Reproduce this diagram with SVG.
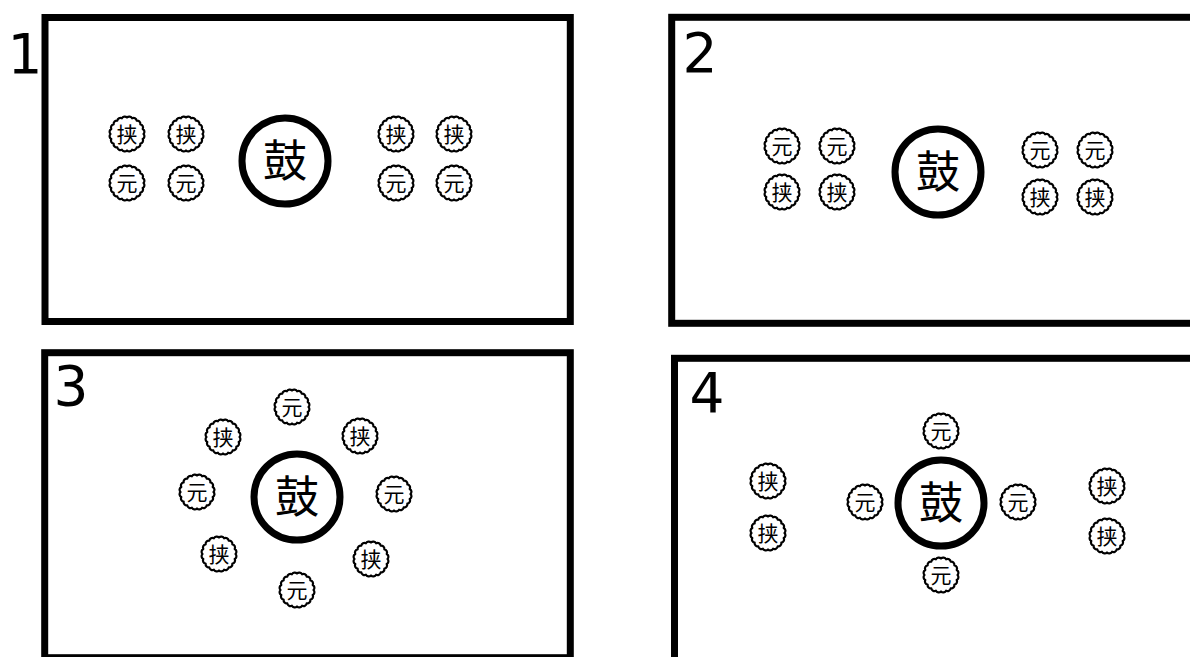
<svg xmlns="http://www.w3.org/2000/svg" xmlns:xlink="http://www.w3.org/1999/xlink" width="1190" height="657" viewBox="0 0 1190 657">
<style>
.frame{fill:none;stroke:#000;stroke-width:7}
.num{font-family:"DejaVu Sans",sans-serif;font-size:55px;fill:#000;text-anchor:middle}
.big{fill:#fff;stroke:#000;stroke-width:7}
.bigt{font-family:"Noto Sans CJK JP","Noto Sans CJK SC",sans-serif;font-size:44px;fill:#000;text-anchor:middle}
.sm{fill:#fff;stroke:#000;stroke-width:2.2;stroke-linejoin:round}
.smt{font-family:"Noto Sans CJK JP","Noto Sans CJK SC",sans-serif;font-size:21px;fill:#000;text-anchor:middle}
</style>
<defs>
<path id="sc" class="sm" d="M16.5,0 A3.2,3.2 0 0 1 15.693,5.099 A3.2,3.2 0 0 1 13.349,9.699 A3.2,3.2 0 0 1 9.699,13.349 A3.2,3.2 0 0 1 5.099,15.693 A3.2,3.2 0 0 1 0,16.5 A3.2,3.2 0 0 1 -5.099,15.693 A3.2,3.2 0 0 1 -9.699,13.349 A3.2,3.2 0 0 1 -13.349,9.699 A3.2,3.2 0 0 1 -15.693,5.099 A3.2,3.2 0 0 1 -16.5,0 A3.2,3.2 0 0 1 -15.693,-5.099 A3.2,3.2 0 0 1 -13.349,-9.699 A3.2,3.2 0 0 1 -9.699,-13.349 A3.2,3.2 0 0 1 -5.099,-15.693 A3.2,3.2 0 0 1 0,-16.5 A3.2,3.2 0 0 1 5.099,-15.693 A3.2,3.2 0 0 1 9.699,-13.349 A3.2,3.2 0 0 1 13.349,-9.699 A3.2,3.2 0 0 1 15.693,-5.099 A3.2,3.2 0 0 1 16.5,0 Z"/>
<g id="jia"><use xlink:href="#sc"/><text class="smt" x="0" y="8">挟</text></g>
<g id="yuan"><use xlink:href="#sc"/><text class="smt" x="0" y="8">元</text></g>
<g id="gu"><circle class="big" r="43"/><text class="bigt" x="0" y="16">鼓</text></g>
</defs>
<rect width="1190" height="657" fill="#fff"/>

<g id="panel1">
<rect class="frame" x="45" y="17.5" width="525.3" height="304"/>
<text class="num" x="25" y="73">1</text>
</g>
<g id="panel2">
<rect class="frame" x="671.7" y="17.3" width="540" height="306"/>
<text class="num" x="700" y="72">2</text>
</g>
<g id="panel3">
<rect class="frame" x="44.7" y="352.7" width="525.6" height="305"/>
<text class="num" x="71" y="405">3</text>
</g>
<g id="panel4">
<rect class="frame" x="674.5" y="358.3" width="540" height="320"/>
<text class="num" x="707" y="412">4</text>
</g>

<g id="connectors"></g>

<g id="p1-gu"><use xlink:href="#gu" x="285" y="161"/></g>
<g id="p1-j1"><use xlink:href="#jia" x="127" y="134"/></g>
<g id="p1-j2"><use xlink:href="#jia" x="186" y="134"/></g>
<g id="p1-y1"><use xlink:href="#yuan" x="127" y="183"/></g>
<g id="p1-y2"><use xlink:href="#yuan" x="186" y="183"/></g>
<g id="p1-j3"><use xlink:href="#jia" x="396" y="134"/></g>
<g id="p1-j4"><use xlink:href="#jia" x="454" y="134"/></g>
<g id="p1-y3"><use xlink:href="#yuan" x="396" y="183"/></g>
<g id="p1-y4"><use xlink:href="#yuan" x="454" y="183"/></g>

<g id="p2-gu"><use xlink:href="#gu" x="938" y="172"/></g>
<g id="p2-y1"><use xlink:href="#yuan" x="782" y="146"/></g>
<g id="p2-y2"><use xlink:href="#yuan" x="837" y="146"/></g>
<g id="p2-j1"><use xlink:href="#jia" x="782" y="192"/></g>
<g id="p2-j2"><use xlink:href="#jia" x="837" y="192"/></g>
<g id="p2-y3"><use xlink:href="#yuan" x="1040" y="150"/></g>
<g id="p2-y4"><use xlink:href="#yuan" x="1095" y="150"/></g>
<g id="p2-j3"><use xlink:href="#jia" x="1040" y="197"/></g>
<g id="p2-j4"><use xlink:href="#jia" x="1095" y="197"/></g>

<g id="p3-gu"><use xlink:href="#gu" x="297" y="497"/></g>
<g id="p3-y1"><use xlink:href="#yuan" x="292" y="407"/></g>
<g id="p3-j1"><use xlink:href="#jia" x="223" y="437"/></g>
<g id="p3-j2"><use xlink:href="#jia" x="360" y="436"/></g>
<g id="p3-y2"><use xlink:href="#yuan" x="197" y="492"/></g>
<g id="p3-y3"><use xlink:href="#yuan" x="394" y="494"/></g>
<g id="p3-j3"><use xlink:href="#jia" x="219" y="554"/></g>
<g id="p3-j4"><use xlink:href="#jia" x="371" y="559"/></g>
<g id="p3-y4"><use xlink:href="#yuan" x="297" y="590"/></g>

<g id="p4-gu"><use xlink:href="#gu" x="941" y="503"/></g>
<g id="p4-y1"><use xlink:href="#yuan" x="941" y="431"/></g>
<g id="p4-y2"><use xlink:href="#yuan" x="941" y="575"/></g>
<g id="p4-y3"><use xlink:href="#yuan" x="865" y="502"/></g>
<g id="p4-y4"><use xlink:href="#yuan" x="1018" y="502"/></g>
<g id="p4-j1"><use xlink:href="#jia" x="768" y="481"/></g>
<g id="p4-j2"><use xlink:href="#jia" x="768" y="533"/></g>
<g id="p4-j3"><use xlink:href="#jia" x="1107" y="486"/></g>
<g id="p4-j4"><use xlink:href="#jia" x="1107" y="536"/></g>
</svg>
